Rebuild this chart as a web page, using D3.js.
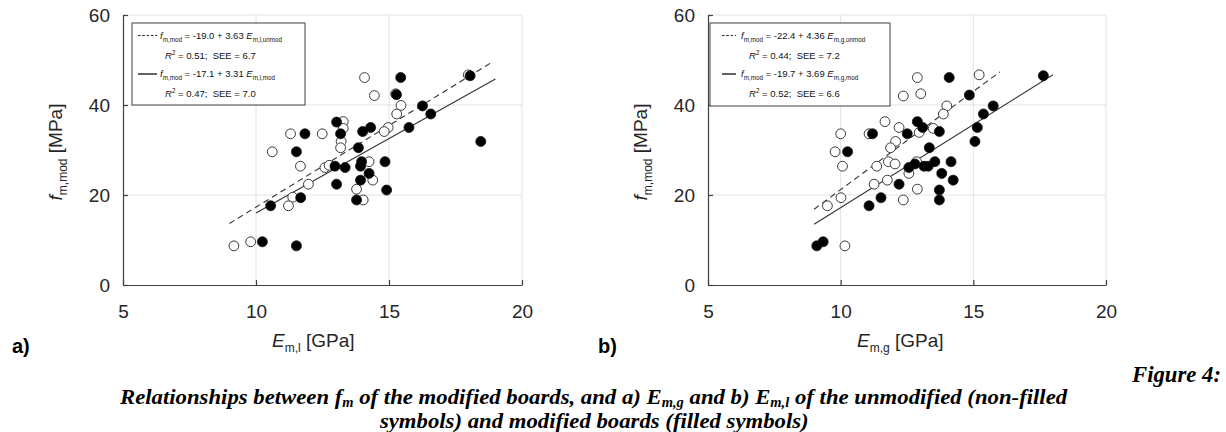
<!DOCTYPE html>
<html>
<head>
<meta charset="utf-8">
<script src="https://cdn.jsdelivr.net/npm/d3@7"></script>
<style>
  html, body { margin: 0; padding: 0; background: #fff; }
  svg { display: block; }
  text { white-space: pre; }
</style>
</head>
<body>
<svg id="chart" width="1226" height="432"></svg>
<script>
// ---------------- DATA ----------------
const xTicks = [5, 10, 15, 20];
const yTicks = [0, 20, 40, 60];
const xGrid = [10, 15, 20];
const yGrid = [20, 40, 60];

// Panel a) : E_m,l [GPa] vs f_m,mod [MPa]
const aOpen = [
  [14.08,46.1],[17.98,46.7],[14.45,42.1],[15.25,42.5],[15.45,39.9],[15.29,38.0],
  [13.28,36.3],[13.28,34.8],[11.30,33.6],[12.49,33.6],[13.20,31.9],[13.18,30.5],
  [14.97,35.0],[14.82,34.1],[10.61,29.6],[11.67,26.4],[12.59,26.1],[12.75,26.6],
  [14.25,27.4],[14.39,23.3],[11.97,22.4],[11.38,19.5],[11.22,17.6],[13.78,21.3],
  [14.03,18.9],[9.17,8.7],[9.80,9.6]
];
const aFilled = [
  [15.44,46.1],[15.28,42.3],[16.26,39.8],[16.57,38.0],[18.05,46.5],[15.75,35.0],
  [13.03,36.2],[13.18,33.6],[11.84,33.6],[14.01,34.1],[14.31,35.0],[18.45,31.9],
  [11.52,29.6],[13.85,30.5],[12.97,26.4],[13.35,26.1],[13.97,27.4],[13.93,26.4],
  [14.85,27.4],[14.25,24.8],[13.93,23.3],[13.03,22.4],[14.91,21.1],[13.78,18.9],
  [11.68,19.4],[10.55,17.6],[10.24,9.6],[11.52,8.7]
];
// Panel b) : E_m,g [GPa] vs f_m,mod [MPa]
const bOpen = [
  [12.89,46.1],[15.22,46.7],[12.36,42.0],[13.02,42.5],[14.00,39.8],[13.87,38.0],
  [11.67,36.3],[12.20,35.0],[12.96,33.9],[13.49,34.8],[10.00,33.6],[11.07,33.6],
  [12.07,31.9],[11.88,30.5],[9.79,29.6],[10.07,26.4],[11.36,26.4],[11.80,27.4],
  [12.05,26.9],[12.86,27.4],[12.57,24.8],[11.26,22.4],[11.76,23.3],[12.89,21.3],
  [12.36,18.9],[10.01,19.4],[9.50,17.6],[10.16,8.7]
];
const bFilled = [
  [14.09,46.1],[17.64,46.5],[14.85,42.2],[15.75,39.8],[15.38,38.0],[12.89,36.3],
  [13.09,35.0],[12.51,33.6],[13.72,34.1],[11.20,33.6],[15.15,35.0],[15.06,31.9],
  [13.34,30.5],[10.26,29.6],[12.57,26.1],[12.80,26.9],[13.14,26.4],[13.30,26.4],
  [13.55,27.4],[14.16,27.4],[13.81,24.8],[14.24,23.3],[12.20,22.4],[13.72,21.1],
  [13.72,18.9],[11.52,19.4],[11.07,17.6],[9.10,8.7],[9.34,9.6]
];

// regression lines: [intercept, slope], x-extent
const aFitUnmod = [-19.0, 3.63], aFitUnmodX = [9.0, 18.8];
const aFitMod   = [-17.1, 3.31], aFitModX   = [10.0, 19.0];
const bFitUnmod = [-22.4, 4.36], bFitUnmodX = [9.0, 16.0];
const bFitMod   = [-19.7, 3.69], bFitModX   = [9.0, 18.0];

// legend texts
const aLegend = [["-19.0 + 3.63", "m,l,unmod", "0.51", "6.7"], ["-17.1 + 3.31", "m,l,mod", "0.47", "7.0"]];
const bLegend = [["-22.4 + 4.36", "m,g,unmod", "0.44", "7.2"], ["-19.7 + 3.69", "m,g,mod", "0.52", "6.6"]];

const panelLabels = ["a)", "b)"];
const xTitleSubs = ["m,l", "m,g"];

// ---------------- DRAW ----------------
const svg = d3.select("#chart");
svg.append("rect").attr("width", 1226).attr("height", 432).attr("fill", "#fff");

const SANS = "'Liberation Sans', Arial, Helvetica, sans-serif";
const SERIF = "'Liberation Serif', 'Times New Roman', serif";
const AX = "#404040";

const panels = [
  { left: 123, right: 522, open: aOpen, filled: aFilled, fits: [[aFitUnmod, aFitUnmodX, "6,4"], [aFitMod, aFitModX, null]],
    legend: aLegend, legBox: [132, 23, 305, 105], legDash: [138, 157], legText: 160, legR: 165,
    xTitleX: 272, yTitleX: 62, label: panelLabels[0], labelX: 12, xsub: xTitleSubs[0] },
  { left: 708, right: 1106, open: bOpen, filled: bFilled, fits: [[bFitUnmod, bFitUnmodX, "6,4"], [bFitMod, bFitModX, null]],
    legend: bLegend, legBox: [710, 23, 890, 106], legDash: [722, 736], legText: 741, legR: 749,
    xTitleX: 857, yTitleX: 647, label: panelLabels[1], labelX: 598, xsub: xTitleSubs[1] }
];

const plotTop = 15, plotBottom = 285;

panels.forEach(p => {
  const x = d3.scaleLinear().domain([5, 20]).range([p.left, p.right]);
  const y = d3.scaleLinear().domain([0, 60]).range([plotBottom, plotTop]);
  const g = svg.append("g");

  // grid
  g.selectAll(".gx").data(xGrid).join("line")
    .attr("x1", d => x(d)).attr("x2", d => x(d)).attr("y1", y(0)).attr("y2", y(60))
    .attr("stroke", "#e2e2e2").attr("stroke-width", 1);
  g.selectAll(".gy").data(yGrid).join("line")
    .attr("x1", x(5)).attr("x2", x(20)).attr("y1", d => y(d)).attr("y2", d => y(d))
    .attr("stroke", "#e2e2e2").attr("stroke-width", 1);

  // axes
  const xa = g.append("g").attr("transform", `translate(0,${plotBottom})`)
    .call(d3.axisBottom(x).tickValues(xTicks).tickSize(-5).tickSizeOuter(0).tickPadding(20));
  const ya = g.append("g").attr("transform", `translate(${p.left},0)`)
    .call(d3.axisLeft(y).tickValues(yTicks).tickSize(-5).tickSizeOuter(0).tickPadding(13));
  [xa, ya].forEach(a => {
    a.select(".domain").attr("stroke", AX).attr("stroke-width", 1.2);
    a.selectAll(".tick line").attr("stroke", AX).attr("stroke-width", 1.2);
    a.selectAll(".tick text").attr("fill", "#262626").style("font-family", SANS).style("font-size", "19px");
  });

  // fit lines
  p.fits.forEach(([coef, ext, dash]) => {
    const pts = ext.map(e => [e, coef[0] + coef[1] * e]);
    g.append("path")
      .attr("d", d3.line().x(d => x(d[0])).y(d => y(d[1]))(pts))
      .attr("stroke", "#333").attr("stroke-width", 1.1).attr("fill", "none")
      .attr("stroke-dasharray", dash);
  });

  // points
  g.selectAll(".open").data(p.open).join("circle")
    .attr("cx", d => x(d[0])).attr("cy", d => y(d[1])).attr("r", 4.9)
    .attr("fill", "#fff").attr("stroke", "#3a3a3a").attr("stroke-width", 1);
  g.selectAll(".filled").data(p.filled).join("circle")
    .attr("cx", d => x(d[0])).attr("cy", d => y(d[1])).attr("r", 5)
    .attr("fill", "#000").attr("stroke", "#111").attr("stroke-width", 0.8);

  // legend
  const [lx0, ly0, lx1, ly1] = p.legBox;
  g.append("rect").attr("x", lx0).attr("y", ly0).attr("width", lx1 - lx0).attr("height", ly1 - ly0)
    .attr("fill", "#fff").attr("stroke", "#404040").attr("stroke-width", 1);
  const rows = [38.5, 77];
  p.legend.forEach((L, i) => {
    const by = rows[i];
    g.append("line").attr("x1", p.legDash[0]).attr("x2", p.legDash[1])
      .attr("y1", by - 3).attr("y2", by - 3)
      .attr("stroke", "#222").attr("stroke-width", i === 0 ? 1 : 1.4)
      .attr("stroke-dasharray", i === 0 ? "2.5,1.8" : null);
    const t = g.append("text").attr("x", p.legText).attr("y", by)
      .style("font-family", SANS).style("font-size", "9.5px").attr("fill", "#111");
    t.append("tspan").style("font-style", "italic").text("f");
    t.append("tspan").attr("dy", 3).style("font-size", "6.3px").text("m,mod");
    t.append("tspan").attr("dy", -3).text(" = " + L[0] + " ");
    t.append("tspan").style("font-style", "italic").text("E");
    t.append("tspan").attr("dy", 3).style("font-size", "6.3px").text(L[1]);

    const t2 = g.append("text").attr("x", p.legR).attr("y", by + 20)
      .style("font-family", SANS).style("font-size", "9.5px").attr("fill", "#111");
    t2.append("tspan").style("font-style", "italic").text("R");
    t2.append("tspan").attr("dy", -4).style("font-size", "6.3px").text("2");
    t2.append("tspan").attr("dy", 4).text(" = " + L[2] + ";  SEE = " + L[3]);
  });

  // x title
  const xt = g.append("text").attr("x", p.xTitleX).attr("y", 347)
    .style("font-family", SANS).style("font-size", "19px").attr("fill", "#262626");
  xt.append("tspan").style("font-style", "italic").text("E");
  xt.append("tspan").attr("dy", 5).style("font-size", "12px").text(p.xsub);
  xt.append("tspan").attr("dy", -5).text(" [GPa]");

  // y title
  const yt = g.append("text").attr("transform", `translate(${p.yTitleX},152) rotate(-90)`)
    .attr("text-anchor", "middle")
    .style("font-family", SANS).style("font-size", "19px").attr("fill", "#262626");
  yt.append("tspan").style("font-style", "italic").text("f");
  yt.append("tspan").attr("dy", 5).style("font-size", "12px").text("m,mod");
  yt.append("tspan").attr("dy", -5).text(" [MPa]");

  // panel label
  svg.append("text").attr("x", p.labelX).attr("y", 353)
    .style("font-family", SANS).style("font-weight", "bold").style("font-size", "20px")
    .attr("fill", "#000").text(p.label);
});

// Caption
const fig = svg.append("text").attr("x", 1221).attr("y", 382).attr("text-anchor", "end")
  .style("font-family", SERIF).style("font-weight", "bold").style("font-style", "italic")
  .style("font-size", "24px").attr("fill", "#000").text("Figure 4:");

function capLine(yy, parts) {
  const t = svg.append("text").attr("x", 0).attr("y", yy)
    .style("font-family", SERIF).style("font-weight", "bold").style("font-style", "italic")
    .style("font-size", "22px").attr("fill", "#000");
  parts.forEach(([s, sub]) => {
    if (sub === 1) t.append("tspan").attr("dy", 3).style("font-size", "14px").text(s);
    else if (sub === -1) t.append("tspan").attr("dy", -3).text(s);
    else t.append("tspan").text(s);
  });
  return t;
}
const cap1 = capLine(404, [
  ["Relationships between f"], ["m", 1], [" of the modified boards, and a) E", -1], ["m,g", 1],
  [" and b) E", -1], ["m,l", 1], [" of the unmodified (non-filled", -1]
]);
const cap2 = capLine(428, [["symbols) and modified boards (filled symbols)"]]);
const w1 = cap1.node().getBBox().width;
const sx = 950 / w1;
[[cap1, 595], [cap2, 595]].forEach(([t, cx]) => {
  const w = t.node().getBBox().width * sx;
  t.attr("transform", `translate(${cx - w / 2},0) scale(${sx},1)`);
});
const fw = fig.node().getBBox().width;
const fsx = 90 / fw;
fig.attr("transform", `translate(${1221 * (1 - fsx)},0) scale(${fsx},1)`);
</script>
</body>
</html>
